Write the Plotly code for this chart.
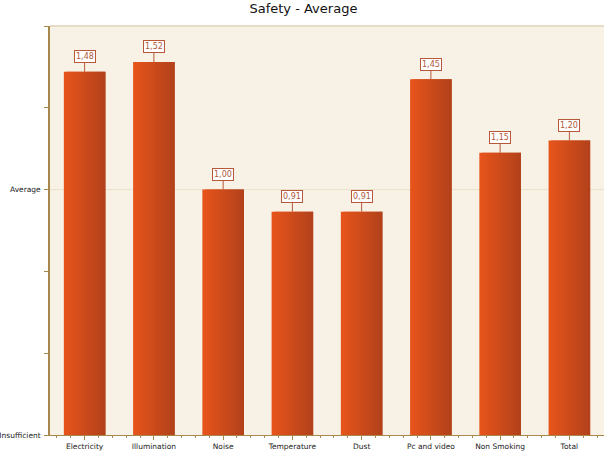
import plotly.graph_objects as go

categories = ["Electricity", "Illumination", "Noise", "Temperature", "Dust",
              "Pc and video", "Non Smoking", "Total"]
values = [1.48, 1.52, 1.00, 0.91, 0.91, 1.45, 1.15, 1.20]
value_labels = ["1,48", "1,52", "1,00", "0,91", "0,91", "1,45", "1,15", "1,20"]
y_tickvals = [0, 1/3, 2/3, 1, 4/3, 5/3]
y_ticktext = ["Insufficient", "", "", "Average", "", ""]

xpos = list(range(len(categories)))

def lerp(c1, c2, t):
    return "#%02x%02x%02x" % tuple(round(a + (b - a) * t) for a, b in zip(c1, c2))

left_col = (0xe6, 0x54, 0x1c)
right_col = (0xb3, 0x42, 0x1b)

fig = go.Figure()
N = 16
bar_w = 0.6
sw = bar_w / N
for k in range(N):
    t = k / (N - 1)
    w = sw if k == N - 1 else sw * 2
    fig.add_trace(go.Bar(
        x=xpos, y=values,
        width=w, offset=-bar_w / 2 + k * sw,
        marker=dict(color=lerp(left_col, right_col, t), line=dict(width=0)),
        showlegend=False, hoverinfo="skip",
    ))

for x, v, lab in zip(xpos, values, value_labels):
    fig.add_annotation(
        x=x, y=v, text=lab, showarrow=True, arrowhead=0, arrowwidth=1,
        arrowcolor="#b9573a", ax=0, ay=-15,
        bgcolor="white", bordercolor="#b9573a", borderwidth=1, borderpad=1,
        font=dict(family="DejaVu Sans", size=8, color="#b0583a"),
    )

fig.add_hline(y=1, line=dict(color="#eadfc8", width=1), layer="below")

fig.update_layout(
    width=613, height=460,
    margin=dict(l=50, r=9, t=26, b=25, autoexpand=False),
    paper_bgcolor="white",
    plot_bgcolor="#f8f2e6",
    barmode="overlay",
    title=dict(text="Safety - Average", x=0.495, xanchor="center", y=0.992, yanchor="top",
               font=dict(family="DejaVu Sans", size=13, color="#111111")),
    font=dict(family="DejaVu Sans", size=7.5, color="#222222"),
    xaxis=dict(
        range=[-0.5, 7.5], tickvals=xpos, ticktext=categories, automargin=False,
        showgrid=False, zeroline=False,
        showline=True, linecolor="#a8874a", linewidth=1,
        ticks="outside", ticklen=4, tickcolor="#a8874a",
        minor=dict(dtick=0.2, tick0=0, ticks="outside", ticklen=2, tickcolor="#a8874a", showgrid=False),
        tickfont=dict(family="DejaVu Sans", size=7.5, color="#222222"),
    ),
    yaxis=dict(
        range=[0, 5/3], tickvals=y_tickvals, ticktext=y_ticktext, automargin=False,
        showgrid=False, zeroline=False,
        showline=True, linecolor="#a8874a", linewidth=1.5,
        ticks="outside", ticklen=4, tickcolor="#a8874a",
        tickfont=dict(family="DejaVu Sans", size=7.5, color="#222222"),
        ticklabelstandoff=2,
    ),
)

fig.add_shape(type="line", xref="paper", yref="paper", x0=0, x1=1, y0=1, y1=1,
              line=dict(color="#e6dcc6", width=2))

fig.write_html("out.html", config={"displayModeBar": False},
               post_script="document.body.style.margin='0';document.body.style.overflow='hidden';")
